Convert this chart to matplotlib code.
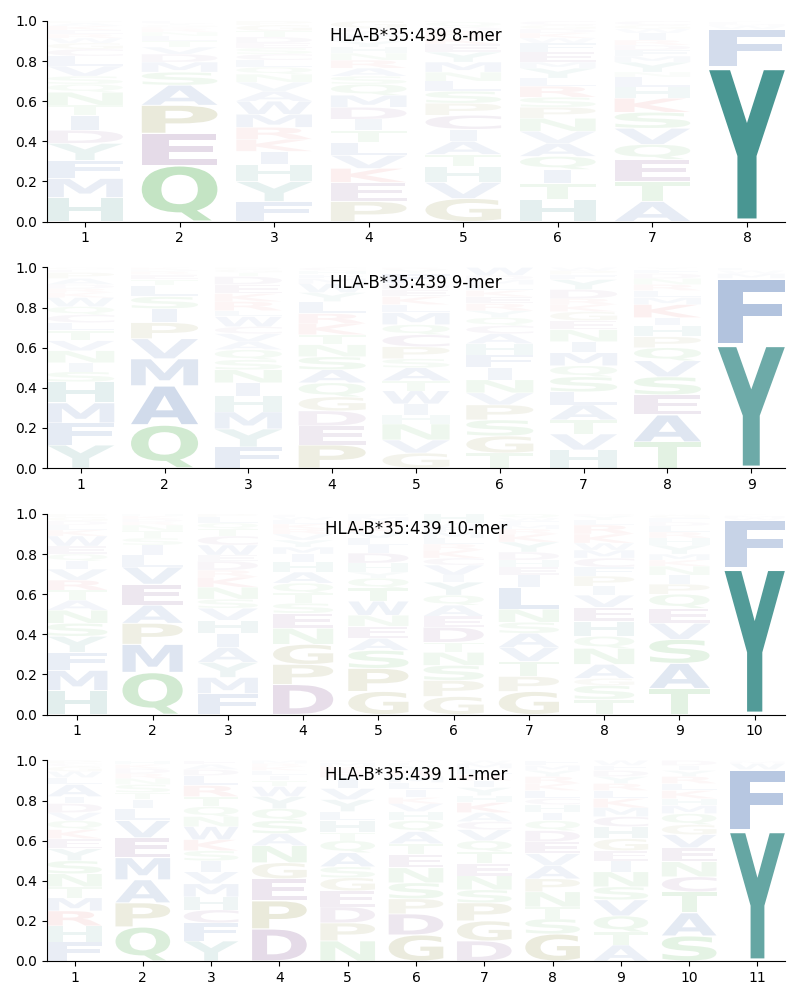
import matplotlib
matplotlib.use("Agg")
import matplotlib.pyplot as plt
from matplotlib.textpath import TextPath
from matplotlib.patches import PathPatch
from matplotlib.font_manager import FontProperties
from matplotlib.transforms import Affine2D

allele = "HLA-B*35:439"

# letter frequencies per position, listed bottom -> top
mer8 = [
    [("H", .12), ("M", .095), ("F", .09), ("Y", .085), ("D", .065), ("I", .075), ("T", .05), ("N", .065),
     ("Q", .04), ("S", .04), ("V", .05), ("L", .05), ("C", .035), ("G", .03), ("W", .025), ("R", .02),
     ("E", .02), ("K", .02), ("A", .015), ("P", .01)],
    [("Q", .28), ("E", .16), ("P", .14), ("A", .10), ("S", .065), ("M", .05), ("D", .04), ("V", .035),
     ("T", .03), ("L", .025), ("N", .02), ("R", .015), ("K", .01), ("G", .01), ("Y", .01), ("F", .01)],
    [("F", .10), ("Y", .10), ("H", .085), ("I", .065), ("K", .06), ("R", .06), ("M", .065), ("W", .065),
     ("A", .05), ("V", .045), ("N", .04), ("Q", .035), ("L", .035), ("C", .03), ("S", .03), ("E", .025),
     ("D", .03), ("T", .03), ("G", .03), ("P", .02)],
    [("P", .10), ("E", .095), ("K", .07), ("V", .065), ("L", .065), ("T", .06), ("I", .055), ("D", .06),
     ("M", .06), ("Q", .055), ("S", .04), ("A", .04), ("R", .04), ("N", .035), ("H", .03), ("Y", .03),
     ("F", .025), ("W", .02), ("C", .02), ("G", .035)],
    [("G", .115), ("V", .08), ("H", .08), ("T", .06), ("A", .065), ("I", .06), ("C", .07), ("P", .06),
     ("S", .06), ("L", .05), ("N", .045), ("M", .05), ("Y", .05), ("E", .04), ("K", .035), ("R", .03),
     ("D", .02), ("Q", .025), ("F", .01)],
    [("H", .11), ("T", .08), ("I", .07), ("Q", .065), ("A", .065), ("V", .06), ("N", .065), ("P", .055),
     ("S", .05), ("R", .055), ("L", .04), ("Y", .05), ("M", .03), ("E", .05), ("F", .045), ("W", .025),
     ("K", .025), ("D", .02), ("G", .02), ("C", .02)],
    [("A", .10), ("T", .10), ("E", .11), ("Q", .075), ("V", .08), ("S", .08), ("K", .07), ("H", .055),
     ("L", .05), ("N", .025), ("Y", .05), ("M", .03), ("F", .03), ("D", .025), ("R", .025), ("I", .035),
     ("W", .02), ("G", .02), ("C", .02)],
    [("Y", .77), ("F", .19), ("W", .015), ("M", .01), ("L", .01), ("I", .005)],
]

mer9 = [
    [("Y", .115), ("F", .11), ("M", .10), ("H", .105), ("S", .05), ("I", .045), ("N", .06), ("V", .05),
     ("T", .05), ("L", .04), ("C", .04), ("Q", .04), ("W", .045), ("K", .025), ("R", .02), ("D", .02),
     ("A", .03), ("P", .03), ("E", .015), ("G", .01)],
    [("Q", .215), ("A", .195), ("M", .135), ("V", .10), ("P", .08), ("I", .07), ("S", .06), ("L", .055),
     ("T", .03), ("E", .025), ("R", .015), ("D", .01), ("K", .01)],
    [("F", .105), ("Y", .09), ("M", .085), ("H", .08), ("I", .065), ("N", .065), ("S", .05), ("Q", .05),
     ("A", .04), ("V", .04), ("C", .035), ("W", .05), ("L", .03), ("R", .045), ("K", .04), ("E", .045),
     ("D", .04), ("T", .02), ("G", .015), ("P", .01)],
    [("P", .115), ("E", .095), ("D", .075), ("G", .07), ("Q", .07), ("A", .065), ("S", .065), ("N", .06),
     ("T", .05), ("K", .055), ("R", .05), ("L", .06), ("Y", .045), ("W", .045), ("M", .025), ("F", .02),
     ("H", .02), ("C", .015)],
    [("G", .075), ("V", .065), ("N", .08), ("H", .045), ("I", .055), ("W", .065), ("T", .05), ("A", .065),
     ("S", .045), ("P", .06), ("C", .06), ("Q", .05), ("M", .06), ("L", .04), ("K", .04), ("E", .035),
     ("D", .03), ("F", .05), ("Y", .02), ("R", .01)],
    [("T", .075), ("G", .085), ("S", .08), ("P", .075), ("V", .06), ("N", .065), ("I", .06), ("F", .065),
     ("H", .055), ("A", .05), ("C", .04), ("Q", .04), ("Y", .035), ("R", .035), ("E", .035), ("K", .03),
     ("L", .03), ("M", .025), ("D", .02), ("W", .04)],
    [("H", .09), ("V", .08), ("T", .07), ("A", .075), ("L", .065), ("S", .075), ("Q", .055), ("M", .065),
     ("I", .055), ("N", .06), ("E", .045), ("G", .045), ("K", .035), ("R", .03), ("D", .045), ("Y", .05),
     ("F", .025), ("P", .02), ("W", .015)],
    [("T", .13), ("A", .135), ("E", .10), ("S", .09), ("V", .08), ("Q", .065), ("P", .055), ("H", .055),
     ("I", .04), ("K", .065), ("M", .035), ("L", .035), ("R", .03), ("N", .03), ("D", .025), ("F", .02),
     ("Y", .01)],
    [("Y", .615), ("F", .33), ("M", .025), ("W", .015), ("L", .015)],
]

mer10 = [
    [("H", .12), ("M", .10), ("F", .09), ("Y", .08), ("S", .065), ("N", .065), ("A", .05), ("T", .05),
     ("R", .05), ("V", .055), ("I", .04), ("Q", .035), ("E", .04), ("W", .05), ("K", .03), ("L", .025),
     ("D", .02), ("G", .02), ("P", .015)],
    [("Q", .21), ("M", .14), ("P", .105), ("A", .09), ("E", .105), ("V", .085), ("L", .06), ("I", .05),
     ("S", .035), ("T", .035), ("N", .03), ("R", .015), ("D", .015), ("K", .015), ("H", .01)],
    [("F", .105), ("M", .08), ("Y", .075), ("A", .075), ("I", .07), ("H", .065), ("V", .06), ("S", .045),
     ("N", .06), ("K", .05), ("R", .035), ("D", .045), ("E", .03), ("W", .05), ("C", .045), ("T", .035),
     ("Q", .03), ("L", .03), ("P", .015)],
    [("D", .15), ("P", .10), ("G", .10), ("N", .08), ("E", .075), ("S", .05), ("T", .05), ("Q", .05),
     ("A", .055), ("H", .05), ("I", .04), ("M", .035), ("Y", .035), ("V", .03), ("R", .025), ("K", .025),
     ("L", .02), ("W", .015), ("F", .01), ("C", .005)],
    [("G", .115), ("P", .115), ("S", .09), ("A", .06), ("E", .06), ("N", .055), ("W", .07), ("T", .065),
     ("Q", .05), ("Y", .03), ("H", .045), ("D", .05), ("I", .04), ("L", .035), ("V", .03), ("K", .03),
     ("R", .025), ("M", .02), ("F", .015)],
    [("G", .09), ("P", .08), ("S", .075), ("N", .065), ("T", .05), ("D", .075), ("E", .055), ("A", .055),
     ("Q", .05), ("Y", .065), ("I", .035), ("V", .05), ("C", .035), ("K", .04), ("R", .03), ("L", .03),
     ("M", .03), ("F", .025), ("W", .02), ("H", .045)],
    [("G", .115), ("P", .075), ("T", .075), ("V", .07), ("A", .07), ("S", .055), ("N", .065), ("L", .11),
     ("I", .06), ("E", .04), ("H", .035), ("D", .04), ("Y", .05), ("K", .04), ("R", .025), ("M", .02),
     ("F", .02), ("W", .015), ("Q", .02)],
    [("T", .075), ("S", .07), ("G", .035), ("A", .07), ("N", .08), ("Q", .06), ("H", .075), ("E", .07),
     ("V", .06), ("I", .045), ("P", .05), ("F", .045), ("C", .045), ("M", .04), ("W", .035), ("K", .045),
     ("R", .045), ("L", .025), ("Y", .02), ("D", .01)],
    [("T", .13), ("A", .125), ("S", .12), ("V", .08), ("E", .075), ("Q", .07), ("P", .05), ("I", .045),
     ("N", .045), ("K", .03), ("M", .03), ("Y", .045), ("H", .035), ("R", .03), ("L", .03), ("D", .02),
     ("F", .02), ("G", .015), ("W", .005)],
    [("Y", .73), ("F", .24), ("W", .01), ("M", .01), ("L", .005), ("I", .005)],
]

mer11 = [
    [("F", .095), ("H", .08), ("R", .075), ("M", .065), ("T", .055), ("N", .065), ("S", .065), ("Y", .06),
     ("E", .05), ("K", .045), ("Q", .045), ("V", .04), ("D", .045), ("I", .035), ("A", .06), ("L", .035),
     ("W", .03), ("G", .025), ("C", .015), ("P", .015)],
    [("Q", .17), ("P", .12), ("A", .115), ("M", .11), ("E", .10), ("V", .085), ("L", .06), ("I", .045),
     ("T", .035), ("S", .04), ("N", .03), ("R", .025), ("D", .025), ("K", .02), ("H", .02)],
    [("Y", .10), ("F", .09), ("C", .065), ("H", .065), ("M", .065), ("V", .06), ("I", .055), ("S", .05),
     ("K", .055), ("W", .065), ("N", .05), ("Q", .05), ("T", .05), ("R", .055), ("L", .05), ("D", .03),
     ("A", .025), ("E", .02)],
    [("D", .16), ("P", .14), ("E", .11), ("G", .08), ("N", .085), ("A", .06), ("S", .065), ("Q", .06),
     ("Y", .06), ("W", .05), ("T", .03), ("I", .025), ("L", .025), ("K", .02), ("R", .015), ("M", .015)],
    [("N", .10), ("P", .09), ("D", .08), ("E", .08), ("G", .065), ("S", .055), ("A", .07), ("Q", .06),
     ("T", .04), ("H", .06), ("L", .045), ("Y", .06), ("V", .055), ("I", .055), ("R", .03), ("K", .025),
     ("M", .02), ("F", .01)],
    [("G", .13), ("D", .105), ("P", .075), ("S", .08), ("N", .075), ("E", .065), ("T", .055), ("A", .06),
     ("Q", .055), ("H", .045), ("V", .04), ("K", .03), ("I", .04), ("L", .035), ("M", .03), ("R", .03),
     ("Y", .025), ("F", .015), ("W", .01)],
    [("D", .10), ("G", .10), ("P", .09), ("S", .065), ("N", .07), ("E", .06), ("T", .06), ("Q", .055),
     ("V", .055), ("C", .04), ("A", .045), ("K", .05), ("H", .035), ("Y", .04), ("I", .035), ("R", .03),
     ("L", .03), ("M", .025), ("W", .015)],
    [("G", .135), ("S", .075), ("T", .06), ("N", .075), ("P", .065), ("A", .065), ("V", .06), ("E", .06),
     ("D", .055), ("Q", .05), ("I", .04), ("H", .04), ("C", .03), ("L", .04), ("K", .035), ("R", .035),
     ("Y", .03), ("M", .025), ("F", .025)],
    [("A", .08), ("T", .065), ("Q", .08), ("V", .08), ("S", .065), ("N", .075), ("I", .055), ("E", .05),
     ("G", .06), ("H", .06), ("C", .05), ("M", .045), ("K", .045), ("L", .04), ("R", .035), ("Y", .035),
     ("D", .03), ("F", .025), ("W", .025)],
    [("S", .125), ("A", .115), ("T", .105), ("C", .075), ("N", .075), ("E", .07), ("V", .065), ("G", .05),
     ("Q", .055), ("M", .04), ("H", .035), ("K", .04), ("L", .035), ("R", .035), ("Y", .03), ("I", .025),
     ("D", .025)],
    [("Y", .65), ("F", .305), ("W", .03), ("M", .01), ("L", .005)],
]

panels = [("8-mer", mer8), ("9-mer", mer9), ("10-mer", mer10), ("11-mer", mer11)]

# colour groups (skylign-like)
colors = {}
for aa in "AFILMVW":
    colors[aa] = "#16499D"
for aa in "HY":
    colors[aa] = "#127672"
for aa in "NQST":
    colors[aa] = "#2CA02C"
for aa in "DEC":
    colors[aa] = "#5E2070"
for aa in "GP":
    colors[aa] = "#6B6B05"
for aa in "KR":
    colors[aa] = "#D62728"

font = FontProperties(family="DejaVu Sans", weight="bold")
width = 0.8
vpad = 0.04
i_frac = 0.36  # the I glyph is not stretched to full width


def draw_letter(ax, ch, x, floor, h):
    tp = TextPath((0, 0), ch, size=1, prop=font)
    bb = tp.get_extents()
    gh = h * (1 - vpad)
    gw = width * i_frac if ch == "I" else width
    tr = (Affine2D()
          .translate(-bb.x0, -bb.y0)
          .scale(gw / bb.width, gh / bb.height)
          .translate(x - gw / 2, floor + h * vpad / 2))
    patch = PathPatch(tr.transform_path(tp), facecolor=colors[ch],
                      edgecolor="none", alpha=min(h, 1.0))
    ax.add_patch(patch)


fig, axes = plt.subplots(4, 1, figsize=(8, 10))
fig.subplots_adjust(left=0.059, right=0.981, top=0.979, bottom=0.039, hspace=0.229)

for ax, (name, cols) in zip(axes, panels):
    for i, col in enumerate(cols):
        pos = i + 1
        floor = 0.0
        for ch, h in col:
            draw_letter(ax, ch, pos, floor, h)
            floor += h
    n = len(cols)
    ax.set_xlim(0.6, n + 0.4)
    ax.set_ylim(0, 1)
    ax.set_xticks(range(1, n + 1))
    ax.set_yticks([0, 0.2, 0.4, 0.6, 0.8, 1.0])
    ax.spines["top"].set_visible(False)
    ax.spines["right"].set_visible(False)
    ax.text(0.5, 0.925, f"{allele} {name}", transform=ax.transAxes,
            ha="center", va="center", fontsize=12)

fig.savefig("out.png", dpi=100)
